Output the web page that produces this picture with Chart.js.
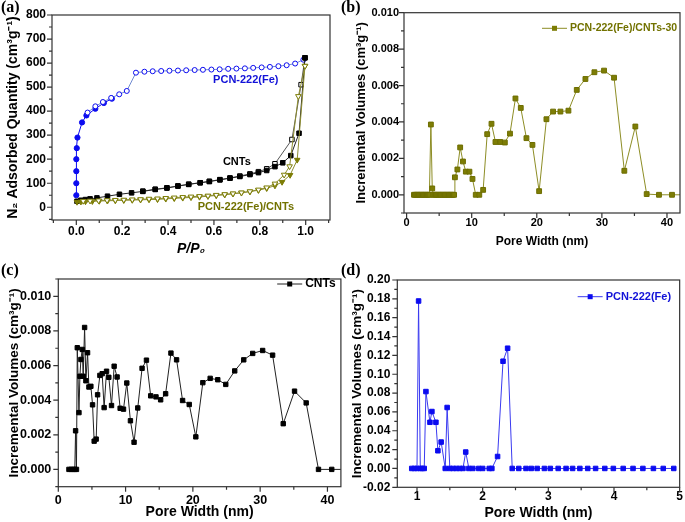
<!DOCTYPE html>
<html lang="en">
<head>
<meta charset="UTF-8">
<script src="https://cdn.jsdelivr.net/npm/chart.js"></script>
<style>
    body { margin: 0; background: #fff; }
    #page { position: relative; width: 685px; height: 522px; overflow: hidden; }
    .panel { position: absolute; }
    .tag { position: absolute; font: bold 16px "Liberation Serif", "Times New Roman", serif; color: #000; }
</style>
<title>Porosity of PCN-222(Fe), CNTs and composite</title>
</head>
<body>
<div id="page">
    <div class="panel" style="left:340px;top:0;width:345px;height:255px"><canvas id="chart-b"></canvas></div>
    <div class="panel" style="left:0;top:255px;width:345px;height:267px"><canvas id="chart-c"></canvas></div>
    <div class="panel" style="left:340px;top:255px;width:345px;height:267px"><canvas id="chart-d"></canvas></div>
    <div class="panel" style="left:0;top:0;width:340px;height:265px"><canvas id="chart-a"></canvas></div>
    <div class="tag" style="left:1px;top:-2px">(a)</div>
    <div class="tag" style="left:341px;top:-2px">(b)</div>
    <div class="tag" style="left:1px;top:261px">(c)</div>
    <div class="tag" style="left:341px;top:261px">(d)</div>
</div>
<script>
    // ---- (a) N2 isotherms ----
    const pcnAdsX = [0, 0, 0, 0, 0.002, 0.005, 0.025, 0.044, 0.083, 0.12, 0.155];
    const pcnAdsY = [50, 100, 150, 200, 246, 290, 353, 382, 410, 434, 452];
    const pcnDesX = [0.99, 0.954, 0.917, 0.881, 0.844, 0.808, 0.771, 0.735, 0.698, 0.662, 0.625, 0.589, 0.552, 0.516, 0.479, 0.443, 0.406, 0.37, 0.333, 0.297, 0.26, 0.22, 0.187, 0.152, 0.116, 0.083, 0.049];
    const pcnDesY = [614, 598, 591, 587, 584, 582, 580, 578, 577, 576, 574, 573, 572, 571, 570, 569, 568, 567, 566, 564, 560, 484, 470, 455, 438, 420, 394];

    const cntAdsX = [0.003, 0.02, 0.04, 0.06, 0.09, 0.136, 0.188, 0.241, 0.29, 0.344, 0.395, 0.443, 0.49, 0.54, 0.58, 0.626, 0.67, 0.713, 0.757, 0.794, 0.83, 0.866, 0.9, 0.935, 0.971, 0.997];
    const cntAdsY = [25, 29, 32, 35, 39, 46, 54, 60, 66, 74, 80, 88, 95, 102, 107, 114, 121, 128, 136, 144, 153, 169, 185, 215, 308, 622];
    const cntDesX = [0.997, 0.98, 0.94, 0.866, 0.83, 0.794, 0.757, 0.713, 0.67, 0.626, 0.58, 0.54, 0.49, 0.443, 0.395, 0.344, 0.29];
    const cntDesY = [622, 510, 282, 181, 160, 148, 139, 130, 122, 115, 108, 102, 96, 89, 81, 75, 67];

    const compAdsX = [0.003, 0.02, 0.04, 0.07, 0.1, 0.136, 0.17, 0.207, 0.244, 0.28, 0.317, 0.354, 0.39, 0.427, 0.464, 0.5, 0.537, 0.574, 0.61, 0.647, 0.683, 0.72, 0.757, 0.794, 0.83, 0.866, 0.897, 0.932, 0.963, 0.997];
    const compAdsY = [22, 23, 24, 25, 26, 27, 28, 29, 30, 31, 32, 33, 35, 37, 39, 41, 43, 46, 49, 52, 56, 60, 65, 71, 79, 90, 105, 134, 197, 588];
    const compDesX = [0.997, 0.968, 0.93, 0.906, 0.866, 0.83, 0.794, 0.757, 0.72, 0.683, 0.647, 0.61, 0.574, 0.537, 0.5, 0.464, 0.427, 0.39, 0.354, 0.317, 0.28, 0.244, 0.207, 0.17, 0.134, 0.097, 0.06, 0.03];
    const compDesY = [588, 462, 170, 135, 98, 82, 73, 66, 61, 57, 54, 51, 48, 46, 44, 42, 40, 38, 36, 35, 33, 32, 31, 30, 29, 28, 27, 26];

    const aXTicks = [0, 0.2, 0.4, 0.6, 0.8, 1.0];
    const aYTicks = [0, 100, 200, 300, 400, 500, 600, 700, 800];

    // ---- (b) PCN-222(Fe)/CNTs-30 pore size distribution ----
    const bWidth = [1.13, 1.3, 1.5, 1.7, 1.9, 2.1, 2.3, 2.5, 2.7, 2.9, 3.1, 3.3, 3.5, 3.73, 3.94, 4.1, 4.3, 4.5, 4.7, 4.9, 5.1, 5.3, 5.5, 5.7, 5.9, 6.1, 6.3, 6.5, 6.7, 6.9, 7.1, 7.3,
        7.42, 7.8, 8.23, 8.66, 9.1, 9.65, 10.12, 10.62, 11.17, 11.76, 12.38, 13.04, 13.65, 14.38, 15.09, 15.88, 16.72, 17.54, 18.41, 19.33, 20.36, 21.48, 22.5, 23.63, 24.86, 26.14, 27.47, 28.85, 30.33, 31.87, 33.45, 35.14, 36.88, 38.77, 40.77, 42.8];
    const bVol = [0, 0, 0, 0, 0, 0, 0, 0, 0, 0, 0, 0, 0, 0.00386, 0.00035, 0, 0, 0, 0, 0, 0, 0, 0, 0, 0, 0, 0, 0, 0, 0, 0, 0,
        0.00096, 0.00139, 0.0026, 0.00183, 0.00127, 0.00127, 0.00087, 0, 0, 0.00027, 0.00333, 0.0039, 0.0029, 0.0029, 0.00287, 0.00336, 0.00529, 0.00477, 0.00311, 0.00274, 0.0002, 0.00415, 0.00457, 0.00457, 0.00462, 0.00576, 0.00636, 0.00673, 0.00682, 0.00643, 0.00132, 0.00375, 0.00004, 0, 0, 0];
    const bXTicks = [0, 10, 20, 30, 40];
    const bYTicks = [0, 0.002, 0.004, 0.006, 0.008, 0.010];

    // ---- (c) CNTs pore size distribution ----
    const cWidth = [1.58, 1.9, 2.2, 2.45, 2.57, 2.7, 2.82, 3.07, 3.21, 3.36, 3.56, 3.7, 3.91, 4.1, 4.35, 4.55, 4.84, 5.09, 5.33, 5.63, 5.84, 6.18, 6.52, 6.81, 7.17, 7.51, 7.91, 8.3, 8.74, 9.19, 9.69,
        10.18, 10.72, 11.26, 11.81, 12.45, 13.1, 13.73, 14.52, 15.21, 15.95, 16.74, 17.58, 18.47, 19.46, 20.44, 21.48, 22.57, 23.7, 24.89, 26.22, 27.56, 28.89, 30.37, 31.85, 33.43, 35.11, 36.84, 38.67, 40.64, 42.6];
    const cVol = [0, 0, 0, 0, 0.00223, 0, 0.00703, 0.00328, 0.00538, 0.00635, 0.00693, 0.00538, 0.0082, 0.00512, 0.00674, 0.00476, 0.0048, 0.00373, 0.00163, 0.00175, 0.00431, 0.00543, 0.00553, 0.00357, 0.00567, 0.00532, 0.00369, 0.00596, 0.00534, 0.00353, 0.00348,
        0.00499, 0.00281, 0.00157, 0.00355, 0.00584, 0.00631, 0.00425, 0.00419, 0.00402, 0.00437, 0.00672, 0.00633, 0.00398, 0.00375, 0.00188, 0.00501, 0.00526, 0.00518, 0.00491, 0.00569, 0.00633, 0.0067, 0.00687, 0.0066, 0.00264, 0.00452, 0.00384, 0, 0, 0];
    const cXTicks = [0, 10, 20, 30, 40];
    const cYTicks = [0, 0.002, 0.004, 0.006, 0.008, 0.010];

    // ---- (d) PCN-222(Fe) pore size distribution ----
    const dWidth = [0.92, 0.96, 1.0, 1.024, 1.05, 1.08, 1.11, 1.136, 1.197, 1.227, 1.288, 1.318, 1.368, 1.43, 1.459, 1.5, 1.55, 1.6, 1.65, 1.7, 1.742, 1.79, 1.85, 1.94, 2.0, 2.1, 2.14,
        2.227, 2.31, 2.38, 2.45, 2.55, 2.66, 2.74, 2.83, 2.94, 3.03, 3.15, 3.27, 3.37, 3.48, 3.6, 3.72, 3.86, 3.99, 4.14, 4.29, 4.44, 4.6, 4.75, 4.91];
    const dVol = [0, 0, 0, 0.1777, 0, 0, 0, 0.0816, 0.049, 0.0604, 0.049, 0.0188, 0.028, 0, 0.0647, 0, 0, 0, 0, 0, 0.0174, 0, 0, 0, 0, 0, 0,
        0.0127, 0.1138, 0.1276, 0, 0, 0, 0, 0, 0, 0, 0, 0, 0, 0, 0, 0, 0, 0, 0, 0, 0, 0, 0, 0];
    const dXTicks = [1, 2, 3, 4, 5];
    const dYTicks = [-0.02, 0, 0.02, 0.04, 0.06, 0.08, 0.10, 0.12, 0.14, 0.16, 0.18, 0.20];

    const FONT = '"Liberation Sans", Arial, sans-serif';
    Chart.defaults.font.family = FONT;
    Chart.defaults.font.weight = 'bold';
    Chart.defaults.color = '#000';
    Chart.defaults.animation = false;

    const BLUE = '#0b0bf0', OLIVE = '#7d7d05', BLACK = '#000';

    const series = (xs, ys, o) => Object.assign({
        data: xs.map((x, i) => ({x, y: ys[i]})),
        tension: 0, borderWidth: 1, pointBorderWidth: 1, pointHoverRadius: 0
    }, o);

    // frame, outward major/minor ticks, legend and in-plot labels (Origin look)
    const originFrame = {
        id: 'originFrame',
        afterDatasetsDraw(chart, args, opts) {
            const {ctx, chartArea: a, scales: {x, y}} = chart;
            ctx.save();
            ctx.strokeStyle = '#333';
            ctx.lineWidth = 1.2;
            ctx.strokeRect(a.left, a.top, a.right - a.left, a.bottom - a.top);

            const marks = (scale, majors, step, draw) => {
                majors.forEach(v => draw(scale.getPixelForValue(v), 5));
                const n0 = Math.ceil(scale.min / step - 1e-9), n1 = Math.floor(scale.max / step + 1e-9);
                for (let k = n0; k <= n1; k++) {
                    const v = k * step;
                    if (!majors.some(m => Math.abs(m - v) < step * 0.01)) draw(scale.getPixelForValue(v), 3);
                }
            };
            ctx.beginPath();
            marks(x, opts.xTicks, opts.xMinor, (p, l) => { ctx.moveTo(p, a.bottom); ctx.lineTo(p, a.bottom + l); });
            marks(y, opts.yTicks, opts.yMinor, (p, l) => { ctx.moveTo(a.left, p); ctx.lineTo(a.left - l, p); });
            ctx.stroke();

            if (opts.legend) {
                const g = opts.legend;
                const lx = a.right + g.dx, ly = a.top + g.dy;
                ctx.strokeStyle = g.line;
                ctx.lineWidth = 1;
                ctx.beginPath();
                ctx.moveTo(lx, ly); ctx.lineTo(lx + 25, ly);
                ctx.stroke();
                ctx.fillStyle = g.marker;
                ctx.fillRect(lx + 12.5 - 2.5, ly - 2.5, 5, 5);
                ctx.fillStyle = g.color;
                ctx.font = 'bold ' + g.size + 'px ' + FONT;
                ctx.textBaseline = 'middle';
                ctx.textAlign = 'left';
                ctx.fillText(g.text, lx + 28, ly);
            }
            (opts.notes || []).forEach(n => {
                ctx.fillStyle = n.color;
                ctx.font = 'bold 11px ' + FONT;
                ctx.textBaseline = 'middle';
                ctx.textAlign = 'center';
                ctx.fillText(n.text, x.getPixelForValue(n.x), y.getPixelForValue(n.y));
            });
            ctx.restore();
        }
    };

    const axis = (min, max, ticks, decimals, fit, tickFont, tickPad, title, titleFont, titlePad) => ({
        type: 'linear', min, max,
        grid: {display: false, drawTicks: false},
        border: {display: false},
        afterBuildTicks: s => { s.ticks = ticks.map(v => ({value: v})); },
        afterFit: s => { if (s.isHorizontal()) s.height = fit; else s.width = fit; },
        ticks: {autoSkip: false, maxRotation: 0, padding: tickPad, font: {size: tickFont}, callback: v => v.toFixed(decimals)},
        title: {display: true, text: title, font: titleFont, padding: titlePad}
    });

    const makeChart = (id, datasets, padding, xAxis, yAxis, frame) => new Chart(document.getElementById(id), {
        type: 'line',
        data: {datasets},
        options: {
            responsive: true,
            maintainAspectRatio: false,
            events: [],
            layout: {padding},
            scales: {x: xAxis, y: yAxis},
            plugins: {legend: {display: false}, tooltip: {enabled: false}, originFrame: frame}
        },
        plugins: [originFrame]
    });

    // (a)
    makeChart('chart-a', [
        series(compDesX, compDesY, {order: 1, borderColor: '#8d8d30', pointStyle: 'triangle', pointRotation: 180, pointRadius: 3.2, pointBackgroundColor: '#fff', pointBorderColor: OLIVE}),
        series(compAdsX, compAdsY, {order: 2, borderColor: '#8d8d30', pointStyle: 'triangle', pointRotation: 180, pointRadius: 3.2, pointBackgroundColor: OLIVE, pointBorderColor: OLIVE}),
        series(cntAdsX, cntAdsY, {order: 3, borderColor: '#222', pointStyle: 'rect', pointRadius: 3.2, pointBackgroundColor: BLACK, pointBorderColor: BLACK}),
        series(cntDesX, cntDesY, {order: 4, borderColor: '#555', pointStyle: 'rect', pointRadius: 3.2, pointBackgroundColor: '#fff', pointBorderColor: BLACK}),
        series(pcnDesX, pcnDesY, {order: 5, borderColor: '#6f8ad0', pointStyle: 'circle', pointRadius: 2.5, pointBackgroundColor: '#fff', pointBorderColor: BLUE}),
        series(pcnAdsX, pcnAdsY, {order: 6, borderColor: BLUE, pointStyle: 'circle', pointRadius: 2.6, pointBackgroundColor: BLUE, pointBorderColor: BLUE})
    ], {top: 15, right: 10, left: 0, bottom: 0},
        axis(-0.106, 1.106, aXTicks, 1, 45, 12, 4, 'P/P\u2080', {size: 14, style: 'italic', weight: 'bold'}, {top: 0, bottom: 7.6}),
        axis(-53, 800, aYTicks, 0, 52, 12, 6, 'N\u2082 Adsorbed Quantity (cm\u00b3g\u207b\u00b9)', {size: 14, weight: 'bold'}, {top: 5, bottom: 0}),
        {xTicks: aXTicks, xMinor: 0.1, yTicks: aYTicks, yMinor: 50, notes: [
            {text: 'PCN-222(Fe)', x: 0.739, y: 529, color: '#1212d8'},
            {text: 'CNTs', x: 0.70, y: 190, color: '#000'},
            {text: 'PCN-222(Fe)/CNTs', x: 0.739, y: 2, color: '#727200'}
        ]});

    // (b)
    makeChart('chart-b', [
        series(bWidth, bVol, {borderColor: '#8d8d25', pointStyle: 'rect', pointRadius: 3.4, pointBackgroundColor: OLIVE, pointBorderColor: '#6e6e00'})
    ], {top: 12.7, right: 5, left: 0, bottom: 0},
        axis(-0.4, 42, bXTicks, 0, 42, 11, 3, 'Pore Width (nm)', {size: 12, weight: 'bold'}, {top: 0, bottom: 6}),
        axis(-0.001, 0.010, bYTicks, 3, 64, 11, 5, 'Incremental Volumes (cm\u00b3g\u207b\u00b9)', {size: 13, weight: 'bold'}, {top: 14, bottom: 0}),
        {xTicks: bXTicks, xMinor: 5, yTicks: bYTicks, yMinor: 0.001,
            legend: {text: 'PCN-222(Fe)/CNTs-30', dx: -138, dy: 15.6, size: 10.5, line: '#8d8d25', marker: OLIVE, color: '#727200'}});

    // (c)
    makeChart('chart-c', [
        series(cWidth, cVol, {borderColor: '#222', pointStyle: 'rect', pointRadius: 3.1, pointBackgroundColor: BLACK, pointBorderColor: BLACK})
    ], {top: 24, right: 3.3, left: 0, bottom: 0},
        axis(0, 42, cXTicks, 0, 35.3, 12.5, 6, 'Pore Width (nm)', {size: 14, weight: 'bold'}, {top: 0, bottom: 1}),
        axis(-0.001, 0.011, cYTicks, 3, 58.3, 12.5, 7, 'Incremental Volumes (cm\u00b3g\u207b\u00b9)', {size: 13.5, weight: 'bold'}, {top: 6, bottom: 0}),
        {xTicks: cXTicks, xMinor: 5, yTicks: cYTicks, yMinor: 0.001,
            legend: {text: 'CNTs', dx: -63.7, dy: 5, size: 12, line: '#222', marker: BLACK, color: BLACK}});

    // (d)
    makeChart('chart-d', [
        series(dWidth, dVol, {borderColor: '#3a3af0', pointStyle: 'rect', pointRadius: 3.2, pointBackgroundColor: BLUE, pointBorderColor: BLUE})
    ], {top: 25, right: 5, left: 0, bottom: 0},
        axis(0.7, 5, dXTicks, 0, 34.7, 12, 2, 'Pore Width (nm)', {size: 14, weight: 'bold'}, {top: 0, bottom: 0.6}),
        axis(-0.02, 0.20, dYTicks, 2, 57.3, 12, 7, 'Incremental Volumes (cm\u00b3g\u207b\u00b9)', {size: 13.5, weight: 'bold'}, {top: 9.4, bottom: 0}),
        {xTicks: dXTicks, xMinor: 0.5, yTicks: dYTicks, yMinor: 0.01,
            legend: {text: 'PCN-222(Fe)', dx: -102, dy: 16.7, size: 11, line: '#3a3af0', marker: BLUE, color: '#1212d8'}});
</script>
</body>
</html>
